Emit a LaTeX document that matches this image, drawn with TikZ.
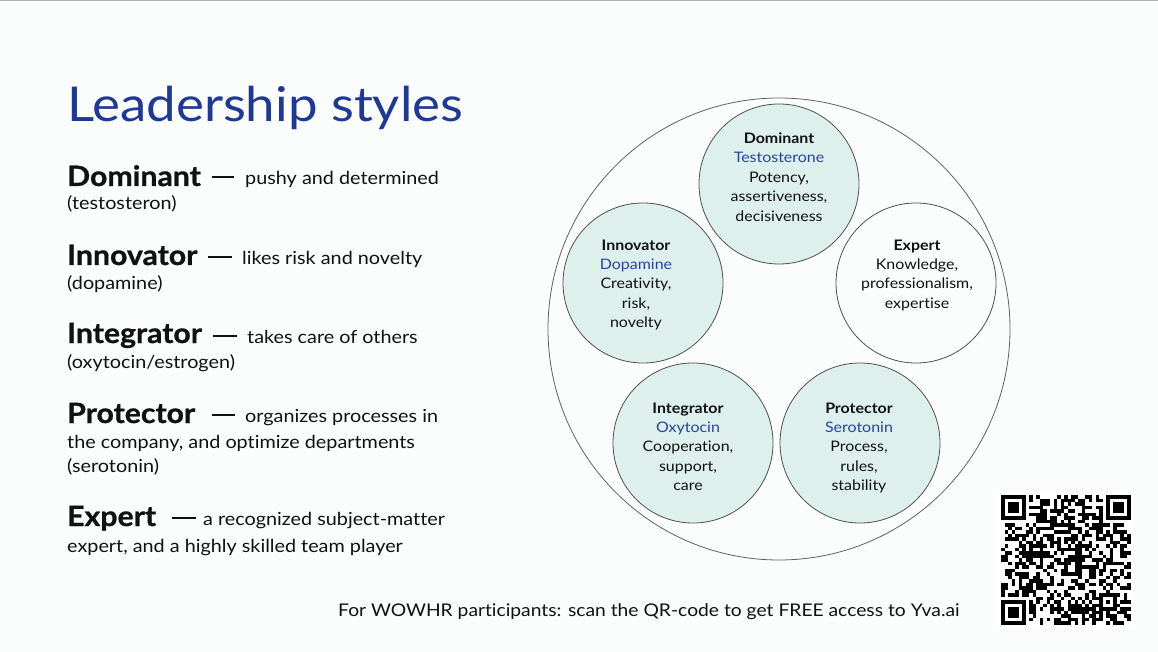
\documentclass[tikz,border=0pt]{standalone}
\usepackage{fontspec}
\setmainfont{Lato}[FakeStretch=1.1, Ligatures=NoCommon]
\newfontfamily\headfont{Lato}[FakeStretch=1.08, Ligatures=NoCommon, BoldFeatures={FakeBold=0.8}]
\definecolor{bg}{RGB}{250,253,252}
\definecolor{titleblue}{RGB}{30,56,150}
\definecolor{hblue}{RGB}{40,66,170}
\definecolor{tealfill}{RGB}{221,240,236}
\definecolor{edge}{RGB}{80,80,80}
\definecolor{ink}{RGB}{17,17,17}
\begin{document}
\begin{tikzpicture}[x=1pt,y=-1pt,
  lbl/.style={anchor=base west, inner sep=0pt, text=ink},
  head/.style={lbl, font=\headfont\fontsize{28}{32}\selectfont\bfseries},
  desc/.style={lbl, font=\fontsize{18}{22}\selectfont},
  dashmark/.style={lbl},
  bubble/.style={circle, draw=edge, line width=0.8pt, fill=tealfill, minimum size=160pt, inner sep=0pt},
  ctext/.style={anchor=north, inner sep=0pt, align=center, text=ink, font=\fontsize{14.5}{19.4}\selectfont}]
\useasboundingbox (0,0) rectangle (1158,652);
\fill[bg] (0,0) rectangle (1158,652);
\draw[gray!60, line width=1.5pt] (0,0.75) -- (1158,0.75);

% title
\node[lbl, text=titleblue, font=\fontsize{48}{52}\selectfont] (title) at (67,122) {Leadership styles};

% left list
\node[head] (h1) at (67,186) {Dominant};
\node[dashmark] (d1a) at (212,185) {\rule[6.5pt]{22pt}{2pt}};
\node[desc] (d1) at (245,185) {pushy and determined};
\node[desc] (s1) at (67,210) {(testosteron)};

\node[head] (h2) at (67,265) {Innovator};
\node[dashmark] (d2a) at (208,264) {\rule[6.5pt]{24pt}{2pt}};
\node[desc] (d2) at (242,264) {likes risk and novelty};
\node[desc] (s2) at (67,289) {(dopamine)};

\node[head] (h3) at (67,343) {Integrator};
\node[dashmark] (d3a) at (213,343) {\rule[6.5pt]{24pt}{2pt}};
\node[desc] (d3) at (247,343) {takes care of others};
\node[desc] (s3) at (67,368) {(oxytocin/estrogen)};

\node[head] (h4) at (67,423) {Protector};
\node[dashmark] (d4a) at (212,422) {\rule[6.5pt]{23pt}{2pt}};
\node[desc] (d4) at (245,422) {organizes processes in};
\node[desc] (s4a) at (67,448) {the company, and optimize departments};
\node[desc] (s4) at (67,472) {(serotonin)};

\node[head] (h5) at (67,526) {Expert};
\node[dashmark] (d5a) at (172,525) {\rule[6.5pt]{24pt}{2pt}};
\node[desc] (d5) at (203,525) {a recognized subject-matter};
\node[desc] (s5) at (67,552) {expert, and a highly skilled team player};

% circles
\node[circle, draw=edge!90, line width=0.8pt, minimum size=462pt, inner sep=0pt] (outer) at (779,329) {};
\node[bubble] (cdom) at (779,184) {};
\node[bubble] (cinn) at (643,283) {};
\node[bubble, fill=none] (cexp) at (916,283) {};
\node[bubble] (cint) at (693,443) {};
\node[bubble] (cpro) at (860,443) {};

\node[ctext] (tdom) at (779,132.5) {\textbf{Dominant}\\\textcolor{hblue}{Testosterone}\\Potency,\\assertiveness,\\decisiveness};
\node[ctext] (tinn) at (636,239.5) {\textbf{Innovator}\\\textcolor{hblue}{Dopamine}\\Creativity,\\risk,\\novelty};
\node[ctext] (texp) at (917,239.5) {\textbf{Expert}\\Knowledge,\\professionalism,\\expertise};
\node[ctext] (tint) at (688,402.5) {\textbf{Integrator}\\\textcolor{hblue}{Oxytocin}\\Cooperation,\\support,\\care};
\node[ctext] (tpro) at (859,402.5) {\textbf{Protector}\\\textcolor{hblue}{Serotonin}\\Process,\\rules,\\stability};

% footer
\node[lbl, font=\fontsize{17.5}{20}\selectfont] (foot) at (338,616) {For WOWHR participants: scan the QR-code to get FREE access to Yva.ai};

% QR code
\fill[white] (997,491) rectangle (1134,629);
\pgfmathsetseed{7}
\foreach \i in {0,...,36}{
  \foreach \j in {0,...,36}{
    \pgfmathrandominteger{\qbit}{0}{1}
    \pgfmathtruncatemacro{\qzone}{(((\i<8)&&(\j<8))||((\i>28)&&(\j<8))||((\i<8)&&(\j>28))||((\i>27)&&(\i<33)&&(\j>27)&&(\j<33))) ? 1 : 0}
    \ifnum\qzone=0 \ifnum\qbit=1
      \fill[black] (1001+\j*3.5,495+\i*3.5) rectangle ++(3.6,3.6);
    \fi\fi
  }
}
\foreach \fx/\fy in {0/0,30/0,0/30}{
  \fill[black] (1001+\fx*3.5,495+\fy*3.5) rectangle ++(24.5,24.5);
  \fill[white] (1001+\fx*3.5+3.5,495+\fy*3.5+3.5) rectangle ++(17.5,17.5);
  \fill[black] (1001+\fx*3.5+7,495+\fy*3.5+7) rectangle ++(10.5,10.5);
}
\fill[black] (1001+28*3.5,495+28*3.5) rectangle ++(17.5,17.5);
\fill[white] (1001+29*3.5,495+29*3.5) rectangle ++(10.5,10.5);
\fill[black] (1001+30*3.5,495+30*3.5) rectangle ++(3.5,3.5);
\end{tikzpicture}
\end{document}
